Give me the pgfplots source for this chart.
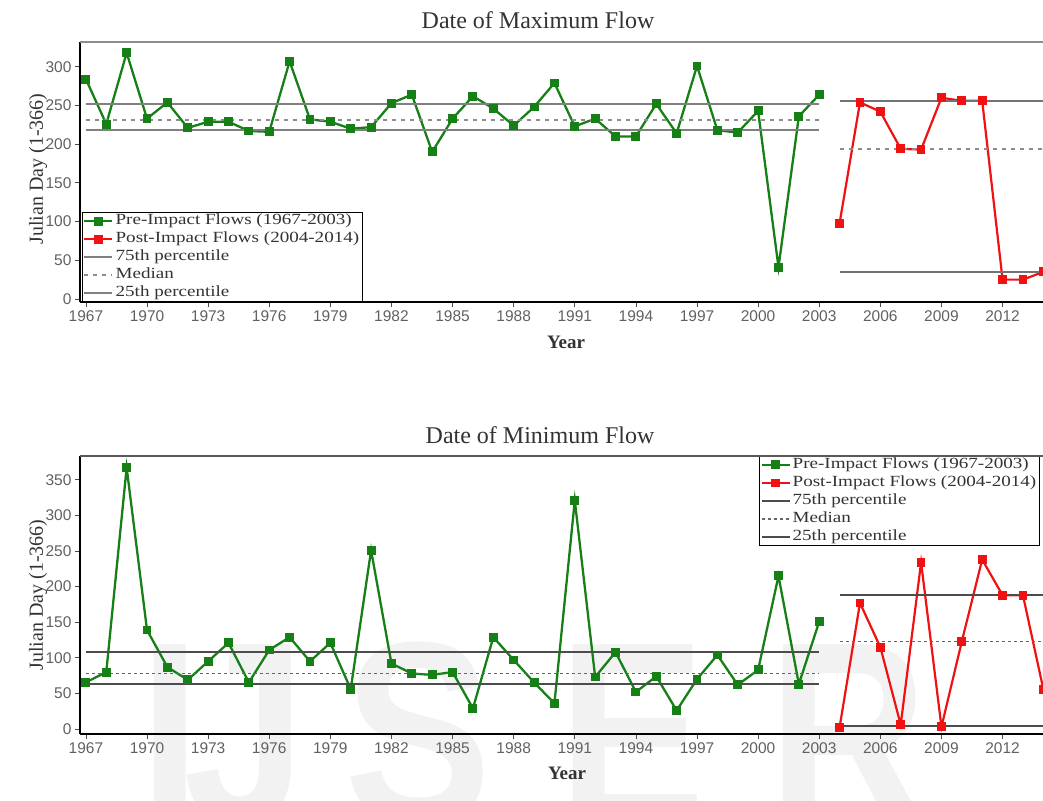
\documentclass[border=0pt]{standalone}
\usepackage{fontspec}
\setmainfont{Liberation Serif}
\newfontfamily\arial{Liberation Sans}
\usepackage{graphicx}
\usepackage{pgfplots}
\pgfplotsset{compat=1.18}
\definecolor{pre}{RGB}{22,128,22}
\definecolor{post}{RGB}{240,18,18}

\pgfplotstableread{
year val
1967 284
1968 226
1969 318
1970 233
1971 254
1972 221
1973 229
1974 229
1975 217
1976 216
1977 307
1978 232
1979 229
1980 220
1981 222
1982 253
1983 264
1984 190
1985 233
1986 262
1987 246
1988 224
1989 248
1990 279
1991 223
1992 233
1993 210
1994 210
1995 252
1996 214
1997 301
1998 218
1999 215
2000 243
2001 41
2002 236
2003 264
}\maxpre
\pgfplotstableread{
year val
2004 98
2005 254
2006 242
2007 194
2008 193
2009 260
2010 256
2011 256
2012 25
2013 25
2014 35
}\maxpost
\pgfplotstableread{
year val
1967 65.5
1968 80
1969 367
1970 139
1971 87
1972 69
1973 95
1974 121
1975 65.5
1976 111
1977 129
1978 95
1979 121
1980 56
1981 251
1982 92
1983 78
1984 76
1985 80
1986 29
1987 129
1988 97
1989 65.5
1990 36
1991 321
1992 73
1993 108
1994 52
1995 74
1996 26
1997 70
1998 104
1999 62
2000 83
2001 215
2002 63
2003 151
}\minpre
\pgfplotstableread{
year val
2004 2.4
2005 177
2006 115
2007 6
2008 234
2009 3
2010 123
2011 238
2012 188
2013 188
2014 56
}\minpost

\pgfplotsset{
  flowax/.style={
    scale only axis, width=969.4pt, xmin=1966.71, xmax=2014.3,
    axis x line*=bottom, axis y line*=left,
    axis line style={-, line width=1.6pt, black},
    xtick={1967,1970,...,2012}, minor x tick num=2,
    tick align=outside, major tick length=5pt, minor tick length=4pt,
    every tick/.style={black!70, line width=0.8pt},
    /pgf/number format/1000 sep={}, /pgf/number format/assume math mode=true,
    ticklabel style={font=\arial\fontsize{15.5}{16}\selectfont, text=black!62},
    legend cell align=left,
    legend image code/.code={\draw[mark repeat=2,mark phase=2,##1] plot coordinates {(0pt,0pt) (14pt,0pt) (28pt,0pt)};},
    legend style={draw=black, line width=0.8pt, fill=white, inner sep=1pt,
      font=\fontsize{15.5}{15.5}\selectfont, text=black!80, row sep=3pt,
      nodes={inner ysep=0pt, text height=11pt, text depth=4pt}},
  },
  preline/.style={pre, line width=2.3pt, mark=square*, mark size=3.3pt, mark options={solid, fill=pre}},
  postline/.style={post, line width=2.2pt, mark=square*, mark size=3.3pt, mark options={solid, fill=post}},
}
\newcommand{\legtxt}[1]{\scalebox{1.23}[1]{#1}}

\begin{document}
\begin{tikzpicture}[x=1pt,y=1pt]
\useasboundingbox (0,0) rectangle (1043,-800);
\clip (0,0) rectangle (1043,-800);
% faint watermark
\begin{scope}[every node/.style={anchor=base, inner sep=0pt, text=black!5, font=\arial\bfseries\fontsize{260}{260}\selectfont, xscale=0.85}]
\node at (170,-823) {I};
\node at (245,-823) {J};
\node at (418,-823) {S};
\node at (632,-823) {E};
\node at (848,-823) {R};
\end{scope}

% ---------------- top chart ----------------
\begin{axis}[flowax, at={(80pt,-302pt)}, anchor=south west, height=260pt,
  ymin=-3.9, ymax=332, ytick={0,50,...,300},
  legend style={at={(axis description cs:0.002,0)}, anchor=south west}]
\addplot[preline] table[x=year,y=val]{\maxpre};
\addlegendentry{\legtxt{Pre-Impact Flows (1967-2003)}}
\addplot[postline] table[x=year,y=val]{\maxpost};
\addlegendentry{\legtxt{Post-Impact Flows (2004-2014)}}
\addplot[black!50, line width=2pt] coordinates {(1967,252) (2003,252)};
\addlegendentry{\legtxt{75th percentile}}
\addplot[black!45, line width=1.8pt, dash pattern=on 4pt off 5pt] coordinates {(1967,231) (2003,231)};
\addlegendentry{\legtxt{Median}}
\addplot[black!50, line width=2pt] coordinates {(1967,218) (2003,218)};
\addlegendentry{\legtxt{25th percentile}}
\addplot[black!55, line width=2pt, forget plot] coordinates {(2004,256) (2015,256)};
\addplot[black!45, line width=1.8pt, dash pattern=on 4pt off 5pt, forget plot] coordinates {(2004,193.5) (2015,193.5)};
\addplot[black!55, line width=2pt, forget plot] coordinates {(2004,35) (2015,35)};
\end{axis}
\draw[black!45, line width=1.6pt] (current axis.north west) -- (current axis.north east);

\node[font=\fontsize{24}{24}\selectfont, text=black!80] at (538,-20) {Date of Maximum Flow};
\node[font=\bfseries\fontsize{19}{19}\selectfont, text=black!80] at (566,-342) {Year};
\node[rotate=90, font=\fontsize{20}{20}\selectfont, text=black!80] at (38,-169) {Julian Day (1-366)};

% ---------------- bottom chart ----------------
\begin{axis}[flowax, at={(80pt,-734pt)}, anchor=south west, height=278pt,
  ymin=-7, ymax=383.4, ytick={0,50,...,350},
  legend style={at={(axis description cs:0.7004,1)}, anchor=north west}]
\addplot[preline] table[x=year,y=val]{\minpre};
\addlegendentry{\legtxt{Pre-Impact Flows (1967-2003)}}
\addplot[postline] table[x=year,y=val]{\minpost};
\addlegendentry{\legtxt{Post-Impact Flows (2004-2014)}}
\addplot[black!70, line width=1.6pt] coordinates {(1967,108) (2003,108)};
\addlegendentry{\legtxt{75th percentile}}
\addplot[black!60, line width=1.5pt, dash pattern=on 3pt off 3pt] coordinates {(1967,78) (2003,78)};
\addlegendentry{\legtxt{Median}}
\addplot[black!70, line width=1.6pt] coordinates {(1967,63) (2003,63)};
\addlegendentry{\legtxt{25th percentile}}
\addplot[black!70, line width=1.6pt, forget plot] coordinates {(2004,188) (2015,188)};
\addplot[black!60, line width=1.5pt, dash pattern=on 3pt off 3pt, forget plot] coordinates {(2004,123) (2015,123)};
\addplot[black!70, line width=1.6pt, forget plot] coordinates {(2004,4.2) (2015,4.2)};
\end{axis}
\draw[black!65, line width=1.6pt] (current axis.north west) -- (current axis.north east);

\node[font=\fontsize{24}{24}\selectfont, text=black!80] at (540,-435) {Date of Minimum Flow};
\node[font=\bfseries\fontsize{19}{19}\selectfont, text=black!80] at (567,-773) {Year};
\node[rotate=90, font=\fontsize{20}{20}\selectfont, text=black!80] at (38,-595) {Julian Day (1-366)};
\end{tikzpicture}
\end{document}
